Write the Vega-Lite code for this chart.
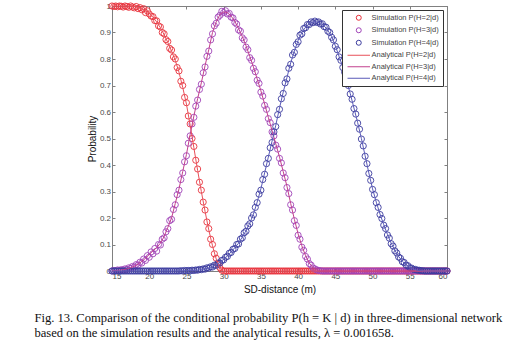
{
"$schema":"https://vega.github.io/schema/vega-lite/v6.json",
"width":335,"height":265,
"autosize":{"type":"none"},
"padding":{"left":112,"top":6,"right":69,"bottom":82},
"background":"white",
"config":{
"view":{"stroke":"#808080","strokeWidth":1},
"axis":{"domainColor":"#808080","tickColor":"#808080","labelColor":"#4a4a4a","labelFont":"Liberation Sans","labelFontSize":8,"titleFont":"Liberation Sans","titleFontSize":10,"titleFontWeight":"normal","titleColor":"#111111","grid":false,"tickSize":-3,"labelPadding":4.5},
"legend":{"orient":"top-right","offset":4,"padding":4,"strokeColor":"#333333","fillColor":"white","labelFont":"Liberation Sans","labelFontSize":7.5,"labelColor":"#444444","symbolSize":25,"symbolStrokeWidth":1,"symbolOffset":9,"labelOffset":9,"rowPadding":2.5,"title":null}
},
"title":{"text":["Fig. 13. Comparison of the conditional probability P(h = K | d) in three-dimensional network","based on the simulation results and the analytical results, λ = 0.001658."],"orient":"bottom","anchor":"start","frame":"bounds","font":"Liberation Serif","fontSize":12.6,"fontWeight":"normal","color":"#111111","lineHeight":15,"offset":17.5,"dx":-53},
"datasets":{
"sim":[
{"x":15,"y":1,"k":"S2"},{"x":15.25,"y":0.998,"k":"S2"},{"x":15.5,"y":1,"k":"S2"},{"x":15.75,"y":0.997,"k":"S2"},{"x":16,"y":1,"k":"S2"},{"x":16.25,"y":0.999,"k":"S2"},{"x":16.5,"y":0.996,"k":"S2"},{"x":16.75,"y":1,"k":"S2"},{"x":17,"y":0.998,"k":"S2"},{"x":17.25,"y":0.995,"k":"S2"},{"x":17.5,"y":1,"k":"S2"},{"x":17.75,"y":0.996,"k":"S2"},{"x":18,"y":0.993,"k":"S2"},{"x":18.25,"y":0.998,"k":"S2"},{"x":18.5,"y":0.99,"k":"S2"},{"x":18.75,"y":0.994,"k":"S2"},{"x":19,"y":0.986,"k":"S2"},{"x":19.25,"y":0.99,"k":"S2"},{"x":19.5,"y":0.975,"k":"S2"},{"x":19.75,"y":0.982,"k":"S2"},{"x":20,"y":0.97,"k":"S2"},{"x":20.25,"y":0.962,"k":"S2"},{"x":20.5,"y":0.96,"k":"S2"},{"x":20.75,"y":0.945,"k":"S2"},{"x":21,"y":0.944,"k":"S2"},{"x":21.25,"y":0.925,"k":"S2"},{"x":21.5,"y":0.921,"k":"S2"},{"x":21.75,"y":0.9,"k":"S2"},{"x":22,"y":0.895,"k":"S2"},{"x":22.25,"y":0.873,"k":"S2"},{"x":22.5,"y":0.866,"k":"S2"},{"x":22.75,"y":0.84,"k":"S2"},{"x":23,"y":0.834,"k":"S2"},{"x":23.25,"y":0.808,"k":"S2"},{"x":23.5,"y":0.8,"k":"S2"},{"x":23.75,"y":0.768,"k":"S2"},{"x":24,"y":0.755,"k":"S2"},{"x":24.25,"y":0.716,"k":"S2"},{"x":24.5,"y":0.7,"k":"S2"},{"x":24.75,"y":0.655,"k":"S2"},{"x":25,"y":0.635,"k":"S2"},{"x":25.25,"y":0.585,"k":"S2"},{"x":25.5,"y":0.555,"k":"S2"},{"x":25.75,"y":0.5,"k":"S2"},{"x":26,"y":0.47,"k":"S2"},{"x":26.25,"y":0.418,"k":"S2"},{"x":26.5,"y":0.385,"k":"S2"},{"x":26.75,"y":0.335,"k":"S2"},{"x":27,"y":0.305,"k":"S2"},{"x":27.25,"y":0.26,"k":"S2"},{"x":27.5,"y":0.23,"k":"S2"},{"x":27.75,"y":0.185,"k":"S2"},{"x":28,"y":0.16,"k":"S2"},{"x":28.25,"y":0.12,"k":"S2"},{"x":28.5,"y":0.1,"k":"S2"},{"x":28.75,"y":0.065,"k":"S2"},{"x":29,"y":0.048,"k":"S2"},{"x":29.25,"y":0.025,"k":"S2"},{"x":29.5,"y":0.012,"k":"S2"},{"x":29.75,"y":0.003,"k":"S2"},
{"x":30,"y":0,"k":"S2"},{"x":30.25,"y":0,"k":"S2"},{"x":30.5,"y":0,"k":"S2"},{"x":30.75,"y":0,"k":"S2"},{"x":31,"y":0,"k":"S2"},{"x":31.25,"y":0,"k":"S2"},{"x":31.5,"y":0,"k":"S2"},{"x":31.75,"y":0,"k":"S2"},{"x":32,"y":0,"k":"S2"},{"x":32.25,"y":0,"k":"S2"},{"x":32.5,"y":0,"k":"S2"},{"x":32.75,"y":0,"k":"S2"},{"x":33,"y":0,"k":"S2"},{"x":33.25,"y":0,"k":"S2"},{"x":33.5,"y":0,"k":"S2"},{"x":33.75,"y":0,"k":"S2"},{"x":34,"y":0,"k":"S2"},{"x":34.25,"y":0,"k":"S2"},{"x":34.5,"y":0,"k":"S2"},{"x":34.75,"y":0,"k":"S2"},{"x":35,"y":0,"k":"S2"},{"x":35.25,"y":0,"k":"S2"},{"x":35.5,"y":0,"k":"S2"},{"x":35.75,"y":0,"k":"S2"},{"x":36,"y":0,"k":"S2"},{"x":36.25,"y":0,"k":"S2"},{"x":36.5,"y":0,"k":"S2"},{"x":36.75,"y":0,"k":"S2"},{"x":37,"y":0,"k":"S2"},{"x":37.25,"y":0,"k":"S2"},{"x":37.5,"y":0,"k":"S2"},{"x":37.75,"y":0,"k":"S2"},{"x":38,"y":0,"k":"S2"},{"x":38.25,"y":0,"k":"S2"},{"x":38.5,"y":0,"k":"S2"},{"x":38.75,"y":0,"k":"S2"},{"x":39,"y":0,"k":"S2"},{"x":39.25,"y":0,"k":"S2"},{"x":39.5,"y":0,"k":"S2"},{"x":39.75,"y":0,"k":"S2"},{"x":40,"y":0,"k":"S2"},{"x":40.25,"y":0,"k":"S2"},{"x":40.5,"y":0,"k":"S2"},{"x":40.75,"y":0,"k":"S2"},{"x":41,"y":0,"k":"S2"},{"x":41.25,"y":0,"k":"S2"},{"x":41.5,"y":0,"k":"S2"},{"x":41.75,"y":0,"k":"S2"},{"x":42,"y":0,"k":"S2"},{"x":42.25,"y":0,"k":"S2"},{"x":42.5,"y":0,"k":"S2"},{"x":42.75,"y":0,"k":"S2"},{"x":43,"y":0,"k":"S2"},{"x":43.25,"y":0,"k":"S2"},{"x":43.5,"y":0,"k":"S2"},{"x":43.75,"y":0,"k":"S2"},{"x":44,"y":0,"k":"S2"},{"x":44.25,"y":0,"k":"S2"},{"x":44.5,"y":0,"k":"S2"},{"x":44.75,"y":0,"k":"S2"},{"x":45,"y":0,"k":"S2"},{"x":45.25,"y":0,"k":"S2"},{"x":45.5,"y":0,"k":"S2"},{"x":45.75,"y":0,"k":"S2"},{"x":46,"y":0,"k":"S2"},{"x":46.25,"y":0,"k":"S2"},{"x":46.5,"y":0,"k":"S2"},{"x":46.75,"y":0,"k":"S2"},{"x":47,"y":0,"k":"S2"},{"x":47.25,"y":0,"k":"S2"},{"x":47.5,"y":0,"k":"S2"},{"x":47.75,"y":0,"k":"S2"},{"x":48,"y":0,"k":"S2"},{"x":48.25,"y":0,"k":"S2"},{"x":48.5,"y":0,"k":"S2"},{"x":48.75,"y":0,"k":"S2"},{"x":49,"y":0,"k":"S2"},{"x":49.25,"y":0,"k":"S2"},{"x":49.5,"y":0,"k":"S2"},{"x":49.75,"y":0,"k":"S2"},{"x":50,"y":0,"k":"S2"},{"x":50.25,"y":0,"k":"S2"},{"x":50.5,"y":0,"k":"S2"},{"x":50.75,"y":0,"k":"S2"},{"x":51,"y":0,"k":"S2"},{"x":51.25,"y":0,"k":"S2"},{"x":51.5,"y":0,"k":"S2"},{"x":51.75,"y":0,"k":"S2"},{"x":52,"y":0,"k":"S2"},{"x":52.25,"y":0,"k":"S2"},{"x":52.5,"y":0,"k":"S2"},{"x":52.75,"y":0,"k":"S2"},{"x":53,"y":0,"k":"S2"},{"x":53.25,"y":0,"k":"S2"},{"x":53.5,"y":0,"k":"S2"},{"x":53.75,"y":0,"k":"S2"},{"x":54,"y":0,"k":"S2"},{"x":54.25,"y":0,"k":"S2"},{"x":54.5,"y":0,"k":"S2"},{"x":54.75,"y":0,"k":"S2"},{"x":55,"y":0,"k":"S2"},{"x":55.25,"y":0,"k":"S2"},{"x":55.5,"y":0,"k":"S2"},{"x":55.75,"y":0,"k":"S2"},{"x":56,"y":0,"k":"S2"},{"x":56.25,"y":0,"k":"S2"},{"x":56.5,"y":0,"k":"S2"},{"x":56.75,"y":0,"k":"S2"},{"x":57,"y":0,"k":"S2"},{"x":57.25,"y":0,"k":"S2"},{"x":57.5,"y":0,"k":"S2"},{"x":57.75,"y":0,"k":"S2"},{"x":58,"y":0,"k":"S2"},{"x":58.25,"y":0,"k":"S2"},{"x":58.5,"y":0,"k":"S2"},{"x":58.75,"y":0,"k":"S2"},{"x":59,"y":0,"k":"S2"},{"x":59.25,"y":0,"k":"S2"},{"x":59.5,"y":0,"k":"S2"},{"x":59.75,"y":0,"k":"S2"},{"x":60,"y":0,"k":"S2"},
{"x":15,"y":0,"k":"S3"},{"x":15.25,"y":0.002,"k":"S3"},{"x":15.5,"y":0.001,"k":"S3"},{"x":15.75,"y":0.004,"k":"S3"},{"x":16,"y":0.002,"k":"S3"},{"x":16.25,"y":0.005,"k":"S3"},{"x":16.5,"y":0.004,"k":"S3"},{"x":16.75,"y":0.008,"k":"S3"},{"x":17,"y":0.006,"k":"S3"},{"x":17.25,"y":0.012,"k":"S3"},{"x":17.5,"y":0.01,"k":"S3"},{"x":17.75,"y":0.017,"k":"S3"},{"x":18,"y":0.015,"k":"S3"},{"x":18.25,"y":0.024,"k":"S3"},{"x":18.5,"y":0.022,"k":"S3"},{"x":18.75,"y":0.033,"k":"S3"},{"x":19,"y":0.03,"k":"S3"},{"x":19.25,"y":0.045,"k":"S3"},{"x":19.5,"y":0.04,"k":"S3"},{"x":19.75,"y":0.058,"k":"S3"},{"x":20,"y":0.052,"k":"S3"},{"x":20.25,"y":0.072,"k":"S3"},{"x":20.5,"y":0.065,"k":"S3"},{"x":20.75,"y":0.085,"k":"S3"},{"x":21,"y":0.075,"k":"S3"},{"x":21.25,"y":0.1,"k":"S3"},{"x":21.5,"y":0.098,"k":"S3"},{"x":21.75,"y":0.12,"k":"S3"},{"x":22,"y":0.125,"k":"S3"},{"x":22.25,"y":0.148,"k":"S3"},{"x":22.5,"y":0.16,"k":"S3"},{"x":22.75,"y":0.19,"k":"S3"},{"x":23,"y":0.195,"k":"S3"},{"x":23.25,"y":0.232,"k":"S3"},{"x":23.5,"y":0.25,"k":"S3"},{"x":23.75,"y":0.288,"k":"S3"},{"x":24,"y":0.305,"k":"S3"},{"x":24.25,"y":0.345,"k":"S3"},{"x":24.5,"y":0.37,"k":"S3"},{"x":24.75,"y":0.412,"k":"S3"},{"x":25,"y":0.435,"k":"S3"},{"x":25.25,"y":0.482,"k":"S3"},{"x":25.5,"y":0.51,"k":"S3"},{"x":25.75,"y":0.555,"k":"S3"},{"x":26,"y":0.58,"k":"S3"},{"x":26.25,"y":0.622,"k":"S3"},{"x":26.5,"y":0.645,"k":"S3"},{"x":26.75,"y":0.685,"k":"S3"},{"x":27,"y":0.705,"k":"S3"},{"x":27.25,"y":0.748,"k":"S3"},{"x":27.5,"y":0.77,"k":"S3"},{"x":27.75,"y":0.81,"k":"S3"},{"x":28,"y":0.83,"k":"S3"},{"x":28.25,"y":0.872,"k":"S3"},{"x":28.5,"y":0.895,"k":"S3"},{"x":28.75,"y":0.925,"k":"S3"},{"x":29,"y":0.935,"k":"S3"},{"x":29.25,"y":0.958,"k":"S3"},{"x":29.5,"y":0.965,"k":"S3"},{"x":29.75,"y":0.98,"k":"S3"},{"x":30,"y":0.975,"k":"S3"},{"x":30.25,"y":0.982,"k":"S3"},{"x":30.5,"y":0.97,"k":"S3"},{"x":30.75,"y":0.972,"k":"S3"},{"x":31,"y":0.958,"k":"S3"},{"x":31.25,"y":0.955,"k":"S3"},{"x":31.5,"y":0.938,"k":"S3"},{"x":31.75,"y":0.932,"k":"S3"},{"x":32,"y":0.91,"k":"S3"},{"x":32.25,"y":0.905,"k":"S3"},{"x":32.5,"y":0.88,"k":"S3"},{"x":32.75,"y":0.872,"k":"S3"},{"x":33,"y":0.845,"k":"S3"},{"x":33.25,"y":0.835,"k":"S3"},{"x":33.5,"y":0.805,"k":"S3"},{"x":33.75,"y":0.795,"k":"S3"},{"x":34,"y":0.765,"k":"S3"},{"x":34.25,"y":0.752,"k":"S3"},{"x":34.5,"y":0.72,"k":"S3"},{"x":34.75,"y":0.708,"k":"S3"},{"x":35,"y":0.675,"k":"S3"},{"x":35.25,"y":0.66,"k":"S3"},{"x":35.5,"y":0.625,"k":"S3"},{"x":35.75,"y":0.61,"k":"S3"},{"x":36,"y":0.575,"k":"S3"},{"x":36.25,"y":0.56,"k":"S3"},{"x":36.5,"y":0.525,"k":"S3"},{"x":36.75,"y":0.51,"k":"S3"},{"x":37,"y":0.475,"k":"S3"},{"x":37.25,"y":0.46,"k":"S3"},{"x":37.5,"y":0.425,"k":"S3"},{"x":37.75,"y":0.408,"k":"S3"},{"x":38,"y":0.37,"k":"S3"},{"x":38.25,"y":0.352,"k":"S3"},{"x":38.5,"y":0.315,"k":"S3"},{"x":38.75,"y":0.292,"k":"S3"},{"x":39,"y":0.25,"k":"S3"},{"x":39.25,"y":0.23,"k":"S3"},{"x":39.5,"y":0.19,"k":"S3"},{"x":39.75,"y":0.172,"k":"S3"},{"x":40,"y":0.135,"k":"S3"},{"x":40.25,"y":0.12,"k":"S3"},{"x":40.5,"y":0.09,"k":"S3"},{"x":40.75,"y":0.078,"k":"S3"},{"x":41,"y":0.055,"k":"S3"},{"x":41.25,"y":0.045,"k":"S3"},{"x":41.5,"y":0.028,"k":"S3"},{"x":41.75,"y":0.022,"k":"S3"},{"x":42,"y":0.011,"k":"S3"},{"x":42.25,"y":0.008,"k":"S3"},{"x":42.5,"y":0.004,"k":"S3"},{"x":42.75,"y":0.002,"k":"S3"},{"x":43,"y":0.001,"k":"S3"},
{"x":43.25,"y":0,"k":"S3"},{"x":43.5,"y":0,"k":"S3"},{"x":43.75,"y":0,"k":"S3"},{"x":44,"y":0,"k":"S3"},{"x":44.25,"y":0,"k":"S3"},{"x":44.5,"y":0,"k":"S3"},{"x":44.75,"y":0,"k":"S3"},{"x":45,"y":0,"k":"S3"},{"x":45.25,"y":0,"k":"S3"},{"x":45.5,"y":0,"k":"S3"},{"x":45.75,"y":0,"k":"S3"},{"x":46,"y":0,"k":"S3"},{"x":46.25,"y":0,"k":"S3"},{"x":46.5,"y":0,"k":"S3"},{"x":46.75,"y":0,"k":"S3"},{"x":47,"y":0,"k":"S3"},{"x":47.25,"y":0,"k":"S3"},{"x":47.5,"y":0,"k":"S3"},{"x":47.75,"y":0,"k":"S3"},{"x":48,"y":0,"k":"S3"},{"x":48.25,"y":0,"k":"S3"},{"x":48.5,"y":0,"k":"S3"},{"x":48.75,"y":0,"k":"S3"},{"x":49,"y":0,"k":"S3"},{"x":49.25,"y":0,"k":"S3"},{"x":49.5,"y":0,"k":"S3"},{"x":49.75,"y":0,"k":"S3"},{"x":50,"y":0,"k":"S3"},{"x":50.25,"y":0,"k":"S3"},{"x":50.5,"y":0,"k":"S3"},{"x":50.75,"y":0,"k":"S3"},{"x":51,"y":0,"k":"S3"},{"x":51.25,"y":0,"k":"S3"},{"x":51.5,"y":0,"k":"S3"},{"x":51.75,"y":0,"k":"S3"},{"x":52,"y":0,"k":"S3"},{"x":52.25,"y":0,"k":"S3"},{"x":52.5,"y":0,"k":"S3"},{"x":52.75,"y":0,"k":"S3"},{"x":53,"y":0,"k":"S3"},{"x":53.25,"y":0,"k":"S3"},{"x":53.5,"y":0,"k":"S3"},{"x":53.75,"y":0,"k":"S3"},{"x":54,"y":0,"k":"S3"},{"x":54.25,"y":0,"k":"S3"},{"x":54.5,"y":0,"k":"S3"},{"x":54.75,"y":0,"k":"S3"},{"x":55,"y":0,"k":"S3"},{"x":55.25,"y":0,"k":"S3"},{"x":55.5,"y":0,"k":"S3"},{"x":55.75,"y":0,"k":"S3"},{"x":56,"y":0,"k":"S3"},{"x":56.25,"y":0,"k":"S3"},{"x":56.5,"y":0,"k":"S3"},{"x":56.75,"y":0,"k":"S3"},{"x":57,"y":0,"k":"S3"},{"x":57.25,"y":0,"k":"S3"},{"x":57.5,"y":0,"k":"S3"},{"x":57.75,"y":0,"k":"S3"},{"x":58,"y":0,"k":"S3"},{"x":58.25,"y":0,"k":"S3"},{"x":58.5,"y":0,"k":"S3"},{"x":58.75,"y":0,"k":"S3"},{"x":59,"y":0,"k":"S3"},{"x":59.25,"y":0,"k":"S3"},{"x":59.5,"y":0,"k":"S3"},{"x":59.75,"y":0,"k":"S3"},{"x":60,"y":0,"k":"S3"},
{"x":15,"y":0,"k":"S4"},{"x":15.25,"y":0,"k":"S4"},{"x":15.5,"y":0,"k":"S4"},{"x":15.75,"y":0,"k":"S4"},{"x":16,"y":0,"k":"S4"},{"x":16.25,"y":0,"k":"S4"},{"x":16.5,"y":0,"k":"S4"},{"x":16.75,"y":0,"k":"S4"},{"x":17,"y":0,"k":"S4"},{"x":17.25,"y":0,"k":"S4"},{"x":17.5,"y":0,"k":"S4"},{"x":17.75,"y":0,"k":"S4"},{"x":18,"y":0,"k":"S4"},{"x":18.25,"y":0,"k":"S4"},{"x":18.5,"y":0,"k":"S4"},{"x":18.75,"y":0,"k":"S4"},{"x":19,"y":0,"k":"S4"},{"x":19.25,"y":0,"k":"S4"},{"x":19.5,"y":0,"k":"S4"},{"x":19.75,"y":0,"k":"S4"},{"x":20,"y":0,"k":"S4"},{"x":20.25,"y":0,"k":"S4"},{"x":20.5,"y":0,"k":"S4"},{"x":20.75,"y":0,"k":"S4"},{"x":21,"y":0,"k":"S4"},{"x":21.25,"y":0,"k":"S4"},{"x":21.5,"y":0,"k":"S4"},{"x":21.75,"y":0,"k":"S4"},{"x":22,"y":0,"k":"S4"},{"x":22.25,"y":0,"k":"S4"},{"x":22.5,"y":0,"k":"S4"},{"x":22.75,"y":0,"k":"S4"},{"x":23,"y":0,"k":"S4"},{"x":23.25,"y":0,"k":"S4"},{"x":23.5,"y":0,"k":"S4"},{"x":23.75,"y":0,"k":"S4"},{"x":24,"y":0,"k":"S4"},{"x":24.25,"y":0.001,"k":"S4"},{"x":24.5,"y":0,"k":"S4"},{"x":24.75,"y":0.002,"k":"S4"},{"x":25,"y":0.001,"k":"S4"},{"x":25.25,"y":0.002,"k":"S4"},{"x":25.5,"y":0.001,"k":"S4"},{"x":25.75,"y":0.003,"k":"S4"},{"x":26,"y":0.002,"k":"S4"},{"x":26.25,"y":0.004,"k":"S4"},{"x":26.5,"y":0.003,"k":"S4"},{"x":26.75,"y":0.006,"k":"S4"},{"x":27,"y":0.005,"k":"S4"},{"x":27.25,"y":0.008,"k":"S4"},{"x":27.5,"y":0.007,"k":"S4"},{"x":27.75,"y":0.012,"k":"S4"},{"x":28,"y":0.011,"k":"S4"},{"x":28.25,"y":0.016,"k":"S4"},{"x":28.5,"y":0.015,"k":"S4"},{"x":28.75,"y":0.022,"k":"S4"},{"x":29,"y":0.021,"k":"S4"},{"x":29.25,"y":0.03,"k":"S4"},{"x":29.5,"y":0.03,"k":"S4"},{"x":29.75,"y":0.04,"k":"S4"},{"x":30,"y":0.042,"k":"S4"},{"x":30.25,"y":0.052,"k":"S4"},{"x":30.5,"y":0.055,"k":"S4"},{"x":30.75,"y":0.067,"k":"S4"},{"x":31,"y":0.07,"k":"S4"},{"x":31.25,"y":0.082,"k":"S4"},{"x":31.5,"y":0.085,"k":"S4"},{"x":31.75,"y":0.1,"k":"S4"},{"x":32,"y":0.102,"k":"S4"},{"x":32.25,"y":0.12,"k":"S4"},{"x":32.5,"y":0.125,"k":"S4"},{"x":32.75,"y":0.144,"k":"S4"},{"x":33,"y":0.15,"k":"S4"},{"x":33.25,"y":0.17,"k":"S4"},{"x":33.5,"y":0.178,"k":"S4"},{"x":33.75,"y":0.2,"k":"S4"},{"x":34,"y":0.212,"k":"S4"},{"x":34.25,"y":0.24,"k":"S4"},{"x":34.5,"y":0.258,"k":"S4"},{"x":34.75,"y":0.29,"k":"S4"},{"x":35,"y":0.305,"k":"S4"},{"x":35.25,"y":0.345,"k":"S4"},{"x":35.5,"y":0.365,"k":"S4"},{"x":35.75,"y":0.405,"k":"S4"},{"x":36,"y":0.425,"k":"S4"},{"x":36.25,"y":0.465,"k":"S4"},{"x":36.5,"y":0.485,"k":"S4"},{"x":36.75,"y":0.525,"k":"S4"},{"x":37,"y":0.545,"k":"S4"},{"x":37.25,"y":0.59,"k":"S4"},{"x":37.5,"y":0.61,"k":"S4"},{"x":37.75,"y":0.65,"k":"S4"},{"x":38,"y":0.67,"k":"S4"},{"x":38.25,"y":0.71,"k":"S4"},{"x":38.5,"y":0.725,"k":"S4"},{"x":38.75,"y":0.765,"k":"S4"},{"x":39,"y":0.78,"k":"S4"},{"x":39.25,"y":0.815,"k":"S4"},{"x":39.5,"y":0.825,"k":"S4"},{"x":39.75,"y":0.855,"k":"S4"},{"x":40,"y":0.865,"k":"S4"},{"x":40.25,"y":0.89,"k":"S4"},{"x":40.5,"y":0.895,"k":"S4"},{"x":40.75,"y":0.915,"k":"S4"},{"x":41,"y":0.918,"k":"S4"},{"x":41.25,"y":0.93,"k":"S4"},{"x":41.5,"y":0.93,"k":"S4"},{"x":41.75,"y":0.94,"k":"S4"},{"x":42,"y":0.937,"k":"S4"},{"x":42.25,"y":0.943,"k":"S4"},{"x":42.5,"y":0.938,"k":"S4"},{"x":42.75,"y":0.94,"k":"S4"},{"x":43,"y":0.932,"k":"S4"},{"x":43.25,"y":0.933,"k":"S4"},{"x":43.5,"y":0.922,"k":"S4"},{"x":43.75,"y":0.92,"k":"S4"},{"x":44,"y":0.905,"k":"S4"},{"x":44.25,"y":0.9,"k":"S4"},{"x":44.5,"y":0.882,"k":"S4"},{"x":44.75,"y":0.872,"k":"S4"},{"x":45,"y":0.848,"k":"S4"},{"x":45.25,"y":0.835,"k":"S4"},{"x":45.5,"y":0.808,"k":"S4"},{"x":45.75,"y":0.795,"k":"S4"},{"x":46,"y":0.768,"k":"S4"},{"x":46.25,"y":0.75,"k":"S4"},{"x":46.5,"y":0.718,"k":"S4"},{"x":46.75,"y":0.7,"k":"S4"},{"x":47,"y":0.668,"k":"S4"},{"x":47.25,"y":0.648,"k":"S4"},{"x":47.5,"y":0.613,"k":"S4"},{"x":47.75,"y":0.592,"k":"S4"},{"x":48,"y":0.558,"k":"S4"},{"x":48.25,"y":0.535,"k":"S4"},{"x":48.5,"y":0.498,"k":"S4"},{"x":48.75,"y":0.472,"k":"S4"},{"x":49,"y":0.433,"k":"S4"},{"x":49.25,"y":0.405,"k":"S4"},{"x":49.5,"y":0.368,"k":"S4"},{"x":49.75,"y":0.342,"k":"S4"},{"x":50,"y":0.308,"k":"S4"},{"x":50.25,"y":0.288,"k":"S4"},{"x":50.5,"y":0.258,"k":"S4"},{"x":50.75,"y":0.24,"k":"S4"},{"x":51,"y":0.213,"k":"S4"},{"x":51.25,"y":0.198,"k":"S4"},{"x":51.5,"y":0.173,"k":"S4"},{"x":51.75,"y":0.16,"k":"S4"},{"x":52,"y":0.136,"k":"S4"},{"x":52.25,"y":0.124,"k":"S4"},{"x":52.5,"y":0.103,"k":"S4"},{"x":52.75,"y":0.094,"k":"S4"},{"x":53,"y":0.076,"k":"S4"},{"x":53.25,"y":0.068,"k":"S4"},{"x":53.5,"y":0.053,"k":"S4"},{"x":53.75,"y":0.048,"k":"S4"},{"x":54,"y":0.035,"k":"S4"},{"x":54.25,"y":0.032,"k":"S4"},{"x":54.5,"y":0.022,"k":"S4"},{"x":54.75,"y":0.02,"k":"S4"},{"x":55,"y":0.012,"k":"S4"},{"x":55.25,"y":0.011,"k":"S4"},{"x":55.5,"y":0.006,"k":"S4"},{"x":55.75,"y":0.006,"k":"S4"},{"x":56,"y":0.003,"k":"S4"},{"x":56.25,"y":0.003,"k":"S4"},{"x":56.5,"y":0.001,"k":"S4"},{"x":56.75,"y":0.001,"k":"S4"},{"x":57,"y":0,"k":"S4"},{"x":57.25,"y":0,"k":"S4"},{"x":57.5,"y":0,"k":"S4"},{"x":57.75,"y":0,"k":"S4"},{"x":58,"y":0,"k":"S4"},{"x":58.25,"y":0,"k":"S4"},{"x":58.5,"y":0,"k":"S4"},{"x":58.75,"y":0,"k":"S4"},{"x":59,"y":0,"k":"S4"},{"x":59.25,"y":0,"k":"S4"},{"x":59.5,"y":0,"k":"S4"},{"x":59.75,"y":0,"k":"S4"},{"x":60,"y":0,"k":"S4"}
],
"ana":[
{"x":15,"y":1,"k":"A2"},{"x":15.5,"y":1,"k":"A2"},{"x":16,"y":1,"k":"A2"},{"x":16.5,"y":1,"k":"A2"},{"x":17,"y":1,"k":"A2"},{"x":17.5,"y":0.999,"k":"A2"},{"x":18,"y":0.998,"k":"A2"},{"x":18.5,"y":0.995,"k":"A2"},{"x":19,"y":0.99,"k":"A2"},{"x":19.5,"y":0.982,"k":"A2"},{"x":20,"y":0.972,"k":"A2"},{"x":20.5,"y":0.958,"k":"A2"},{"x":21,"y":0.94,"k":"A2"},{"x":21.5,"y":0.918,"k":"A2"},{"x":22,"y":0.892,"k":"A2"},{"x":22.5,"y":0.862,"k":"A2"},{"x":23,"y":0.83,"k":"A2"},{"x":23.5,"y":0.795,"k":"A2"},{"x":24,"y":0.75,"k":"A2"},{"x":24.5,"y":0.693,"k":"A2"},{"x":25,"y":0.63,"k":"A2"},{"x":25.5,"y":0.55,"k":"A2"},{"x":26,"y":0.465,"k":"A2"},{"x":26.5,"y":0.38,"k":"A2"},{"x":27,"y":0.3,"k":"A2"},{"x":27.5,"y":0.225,"k":"A2"},{"x":28,"y":0.155,"k":"A2"},{"x":28.5,"y":0.095,"k":"A2"},{"x":29,"y":0.045,"k":"A2"},{"x":29.5,"y":0.01,"k":"A2"},{"x":30,"y":0,"k":"A2"},{"x":35,"y":0,"k":"A2"},{"x":40,"y":0,"k":"A2"},{"x":45,"y":0,"k":"A2"},{"x":50,"y":0,"k":"A2"},{"x":55,"y":0,"k":"A2"},{"x":60,"y":0,"k":"A2"},
{"x":15,"y":0.001,"k":"A3"},{"x":15.5,"y":0.002,"k":"A3"},{"x":16,"y":0.003,"k":"A3"},{"x":16.5,"y":0.005,"k":"A3"},{"x":17,"y":0.008,"k":"A3"},{"x":17.5,"y":0.012,"k":"A3"},{"x":18,"y":0.018,"k":"A3"},{"x":18.5,"y":0.026,"k":"A3"},{"x":19,"y":0.036,"k":"A3"},{"x":19.5,"y":0.048,"k":"A3"},{"x":20,"y":0.062,"k":"A3"},{"x":20.5,"y":0.076,"k":"A3"},{"x":21,"y":0.088,"k":"A3"},{"x":21.5,"y":0.105,"k":"A3"},{"x":22,"y":0.13,"k":"A3"},{"x":22.5,"y":0.165,"k":"A3"},{"x":23,"y":0.2,"k":"A3"},{"x":23.5,"y":0.255,"k":"A3"},{"x":24,"y":0.31,"k":"A3"},{"x":24.5,"y":0.375,"k":"A3"},{"x":25,"y":0.44,"k":"A3"},{"x":25.5,"y":0.515,"k":"A3"},{"x":26,"y":0.585,"k":"A3"},{"x":26.5,"y":0.65,"k":"A3"},{"x":27,"y":0.71,"k":"A3"},{"x":27.5,"y":0.775,"k":"A3"},{"x":28,"y":0.835,"k":"A3"},{"x":28.5,"y":0.9,"k":"A3"},{"x":29,"y":0.94,"k":"A3"},{"x":29.5,"y":0.968,"k":"A3"},{"x":30,"y":0.978,"k":"A3"},{"x":30.5,"y":0.975,"k":"A3"},{"x":31,"y":0.962,"k":"A3"},{"x":31.5,"y":0.942,"k":"A3"},{"x":32,"y":0.915,"k":"A3"},{"x":32.5,"y":0.885,"k":"A3"},{"x":33,"y":0.85,"k":"A3"},{"x":33.5,"y":0.81,"k":"A3"},{"x":34,"y":0.77,"k":"A3"},{"x":34.5,"y":0.725,"k":"A3"},{"x":35,"y":0.68,"k":"A3"},{"x":35.5,"y":0.63,"k":"A3"},{"x":36,"y":0.58,"k":"A3"},{"x":36.5,"y":0.53,"k":"A3"},{"x":37,"y":0.48,"k":"A3"},{"x":37.5,"y":0.43,"k":"A3"},{"x":38,"y":0.375,"k":"A3"},{"x":38.5,"y":0.32,"k":"A3"},{"x":39,"y":0.255,"k":"A3"},{"x":39.5,"y":0.195,"k":"A3"},{"x":40,"y":0.14,"k":"A3"},{"x":40.5,"y":0.095,"k":"A3"},{"x":41,"y":0.058,"k":"A3"},{"x":41.5,"y":0.03,"k":"A3"},{"x":42,"y":0.012,"k":"A3"},{"x":42.5,"y":0.004,"k":"A3"},{"x":43,"y":0.001,"k":"A3"},{"x":43.5,"y":0,"k":"A3"},{"x":45,"y":0,"k":"A3"},{"x":50,"y":0,"k":"A3"},{"x":55,"y":0,"k":"A3"},{"x":60,"y":0,"k":"A3"},
{"x":15,"y":0,"k":"A4"},{"x":20,"y":0,"k":"A4"},{"x":24,"y":0,"k":"A4"},{"x":24.5,"y":0.001,"k":"A4"},{"x":25,"y":0.001,"k":"A4"},{"x":25.5,"y":0.002,"k":"A4"},{"x":26,"y":0.002,"k":"A4"},{"x":26.5,"y":0.003,"k":"A4"},{"x":27,"y":0.005,"k":"A4"},{"x":27.5,"y":0.008,"k":"A4"},{"x":28,"y":0.012,"k":"A4"},{"x":28.5,"y":0.017,"k":"A4"},{"x":29,"y":0.024,"k":"A4"},{"x":29.5,"y":0.033,"k":"A4"},{"x":30,"y":0.044,"k":"A4"},{"x":30.5,"y":0.057,"k":"A4"},{"x":31,"y":0.072,"k":"A4"},{"x":31.5,"y":0.088,"k":"A4"},{"x":32,"y":0.105,"k":"A4"},{"x":32.5,"y":0.128,"k":"A4"},{"x":33,"y":0.152,"k":"A4"},{"x":33.5,"y":0.18,"k":"A4"},{"x":34,"y":0.215,"k":"A4"},{"x":34.5,"y":0.26,"k":"A4"},{"x":35,"y":0.31,"k":"A4"},{"x":35.5,"y":0.37,"k":"A4"},{"x":36,"y":0.43,"k":"A4"},{"x":36.5,"y":0.49,"k":"A4"},{"x":37,"y":0.55,"k":"A4"},{"x":37.5,"y":0.615,"k":"A4"},{"x":38,"y":0.675,"k":"A4"},{"x":38.5,"y":0.73,"k":"A4"},{"x":39,"y":0.785,"k":"A4"},{"x":39.5,"y":0.83,"k":"A4"},{"x":40,"y":0.87,"k":"A4"},{"x":40.5,"y":0.9,"k":"A4"},{"x":41,"y":0.92,"k":"A4"},{"x":41.5,"y":0.933,"k":"A4"},{"x":42,"y":0.94,"k":"A4"},{"x":42.5,"y":0.94,"k":"A4"},{"x":43,"y":0.935,"k":"A4"},{"x":43.5,"y":0.925,"k":"A4"},{"x":44,"y":0.908,"k":"A4"},{"x":44.5,"y":0.885,"k":"A4"},{"x":45,"y":0.85,"k":"A4"},{"x":45.5,"y":0.81,"k":"A4"},{"x":46,"y":0.77,"k":"A4"},{"x":46.5,"y":0.72,"k":"A4"},{"x":47,"y":0.67,"k":"A4"},{"x":47.5,"y":0.615,"k":"A4"},{"x":48,"y":0.56,"k":"A4"},{"x":48.5,"y":0.5,"k":"A4"},{"x":49,"y":0.435,"k":"A4"},{"x":49.5,"y":0.37,"k":"A4"},{"x":50,"y":0.31,"k":"A4"},{"x":50.5,"y":0.26,"k":"A4"},{"x":51,"y":0.215,"k":"A4"},{"x":51.5,"y":0.175,"k":"A4"},{"x":52,"y":0.138,"k":"A4"},{"x":52.5,"y":0.105,"k":"A4"},{"x":53,"y":0.078,"k":"A4"},{"x":53.5,"y":0.055,"k":"A4"},{"x":54,"y":0.037,"k":"A4"},{"x":54.5,"y":0.023,"k":"A4"},{"x":55,"y":0.013,"k":"A4"},{"x":55.5,"y":0.007,"k":"A4"},{"x":56,"y":0.003,"k":"A4"},{"x":56.5,"y":0.001,"k":"A4"},{"x":57,"y":0,"k":"A4"},{"x":60,"y":0,"k":"A4"}
]
},
"layer":[
{"data":{"name":"sim"},
"mark":{"type":"point","filled":false,"size":38,"strokeWidth":0.9,"opacity":1},
"encoding":{
"x":{"field":"x","type":"quantitative","scale":{"domain":[15,60],"nice":false,"zero":false},"axis":{"values":[15,20,25,30,35,40,45,50,55,60],"title":"SD-distance (m)","titlePadding":4}},
"y":{"field":"y","type":"quantitative","scale":{"domain":[0,1],"nice":false,"zero":false},"axis":{"values":[0,0.1,0.2,0.3,0.4,0.5,0.6,0.7,0.8,0.9,1],"format":".1~f","title":"Probability","titlePadding":2}},
"color":{"field":"k","type":"nominal","scale":{"domain":["S2","S3","S4","A2","A3","A4"],"range":["#e8323c","#a044b8","#3b3b9e","#e8505a","#c2408e","#5a5ab8"]},"legend":{"labelExpr":"{'S2':'Simulation P(H=2|d)','S3':'Simulation P(H=3|d)','S4':'Simulation P(H=4|d)','A2':'Analytical P(H=2|d)','A3':'Analytical P(H=3|d)','A4':'Analytical P(H=4|d)'}[datum.label]"}},
"shape":{"field":"k","type":"nominal","scale":{"domain":["S2","S3","S4","A2","A3","A4"],"range":["circle","circle","circle","M-4.5,0H4.5","M-4.5,0H4.5","M-4.5,0H4.5"]},"legend":{"labelExpr":"{'S2':'Simulation P(H=2|d)','S3':'Simulation P(H=3|d)','S4':'Simulation P(H=4|d)','A2':'Analytical P(H=2|d)','A3':'Analytical P(H=3|d)','A4':'Analytical P(H=4|d)'}[datum.label]"}}
}},
{"data":{"name":"ana"},
"mark":{"type":"line","strokeWidth":1},
"encoding":{
"x":{"field":"x","type":"quantitative","axis":{"orient":"top","labels":false,"title":null,"values":[15,20,25,30,35,40,45,50,55,60]}},
"y":{"field":"y","type":"quantitative","axis":{"orient":"right","labels":false,"title":null,"values":[0,0.1,0.2,0.3,0.4,0.5,0.6,0.7,0.8,0.9,1]}},
"color":{"field":"k","type":"nominal","legend":null}
}}
],
"resolve":{"axis":{"x":"independent","y":"independent"}}
}
